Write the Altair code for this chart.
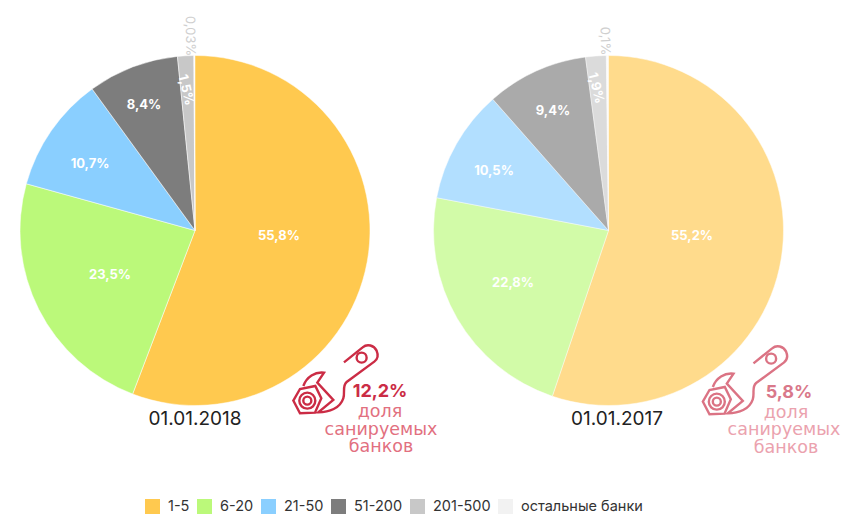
import altair as alt
import pandas as pd

# ---- data ----
groups = ["1-5", "6-20", "21-50", "51-200", "201-500", "остальные банки"]
shares_2018 = [55.8, 23.5, 10.7, 8.4, 1.5, 0.03]
shares_2017 = [55.2, 22.8, 10.5, 9.4, 1.9, 0.1]
labels_2018 = ["55,8%", "23,5%", "10,7%", "8,4%", "1,5%", "0,03%"]
labels_2017 = ["55,2%", "22,8%", "10,5%", "9,4%", "1,9%", "0,1%"]
dates = ["01.01.2018", "01.01.2017"]
sanitised = ["12,2%", "5,8%"]
caption = ["доля", "санируемых", "банков"]

# ---- style ----
FONT = "Inter"
WIDE = "DejaVu Sans"
colors = ["#FFC94F", "#BBF97A", "#8ACFFF", "#7D7D7D", "#C8C8C8", "#F2F2F2"]
RADIUS = 175
CX = [187, 600.5]
CY = 222.5
# canvas positions of the slice labels (x, y, angle, colour)
WHITE, GREY = "#FFFFFF", "#CFCFCF"
pos_2018 = [(271, 228, 0, WHITE), (102, 267, 0, WHITE), (82, 156, 0, WHITE),
            (136, 97, 0, WHITE), (178, 82, 77, WHITE), (182, 28, 89, GREY)]
pos_2017 = [(684, 228, 0, WHITE), (505, 275, 0, WHITE), (486, 163, 0, WHITE),
            (545, 103, 0, WHITE), (588, 80, 76, WHITE), (597, 33, 88, GREY)]


def ring(cx, cy, r):
    k = 0.5523 * r
    return (f"M{cx-r} {cy} C{cx-r} {cy-k} {cx-k} {cy-r} {cx} {cy-r} "
            f"C{cx+k} {cy-r} {cx+r} {cy-k} {cx+r} {cy} "
            f"C{cx+r} {cy+k} {cx+k} {cy+r} {cx} {cy+r} "
            f"C{cx-k} {cy+r} {cx-r} {cy+k} {cx-r} {cy} Z ")


ICON = ("M192 97 L248 52 C262 40 282 46 290 62 C296 76 292 88 283 95 L200 156 "
        "C186 168 196 188 190 205 C180 235 148 247 115 247 L160 210 L112 158 L132 128 "
        "C105 125 80 140 70 168 "
        "M40 212 L60 177 L106 168 L124 205 L105 248 L60 250 Z "
        + ring(82, 212, 24) + ring(82, 212, 12) + ring(245, 83, 15))

scale = alt.Scale(domain=groups, range=colors)
color = alt.Color("group:N", scale=scale, sort=groups)


def pie(values, cx, opacity):
    df = pd.DataFrame({"group": groups, "value": values, "idx": range(6)})
    return alt.Chart(df).mark_arc(
        radius=RADIUS, stroke="#FFFFFF", strokeWidth=0.5, opacity=opacity
    ).encode(
        x=alt.value(cx),
        y=alt.value(CY),
        theta=alt.Theta("value:Q", stack=True,
                        scale=alt.Scale(domain=[0, 100], range=[0, 6.28318530718])),
        order=alt.Order("idx:Q"),
        color=color,
    )


def text(s, x, y, size, col, weight="normal", angle=0, font=FONT):
    df = pd.DataFrame({"t": [s]})
    return alt.Chart(df).mark_text(
        font=font, fontSize=size, fontWeight=weight, color=col, angle=angle,
        align="center", baseline="middle",
    ).encode(x=alt.value(x), y=alt.value(y), text="t:N")


def icon(x, y, col):
    df = pd.DataFrame({"k": [0]})
    return alt.Chart(df).mark_point(
        shape=ICON, size=0.444, filled=False, stroke=col, strokeWidth=2.4, opacity=1
    ).encode(x=alt.value(x), y=alt.value(y))


layers = [pie(shares_2018, CX[0], 1), pie(shares_2017, CX[1], 0.65)]

for labs, poss in ((labels_2018, pos_2018), (labels_2017, pos_2017)):
    for lab, (x, y, a, c) in zip(labs, poss):
        layers.append(text(lab, x, y, 13, c, "bold" if c == WHITE else "normal", a))

layers += [
    text(dates[0], 187, 411, 19, "#222222"),
    text(dates[1], 609, 411, 19, "#222222"),
    icon(272, 322, "#CB2C45"),
    icon(681.5, 323, "#DB7384"),
    text(sanitised[0], 372, 384, 18, "#CB2C45", "bold"),
    text(caption[0], 372, 404, 17.5, "#E2707F", font=WIDE),
    text(caption[1], 373, 422, 17.5, "#E2707F", font=WIDE),
    text(caption[2], 373, 439, 17.5, "#E2707F", font=WIDE),
    text(sanitised[1], 781, 385, 18, "#D9788A", "bold"),
    text(caption[0], 778, 405, 17.5, "#EBA2AE", font=WIDE),
    text(caption[1], 776, 422, 17.5, "#EBA2AE", font=WIDE),
    text(caption[2], 778, 440, 17.5, "#EBA2AE", font=WIDE),
]

chart = alt.layer(*layers).properties(
    width=833, height=507, padding=0, autosize=alt.AutoSizeParams(type="none")
).configure_view(stroke=None).configure_legend(
    orient="none", legendX=137, legendY=491, direction="horizontal", columns=6,
    title=None, symbolType="square", symbolSize=225, symbolStrokeWidth=0,
    labelFont=FONT, labelFontSize=14.5, labelColor="#333333", labelOffset=8,
    columnPadding=7, symbolOpacity=1,
)
chart.save("out.html", embed_options={"renderer": "svg", "actions": False})
